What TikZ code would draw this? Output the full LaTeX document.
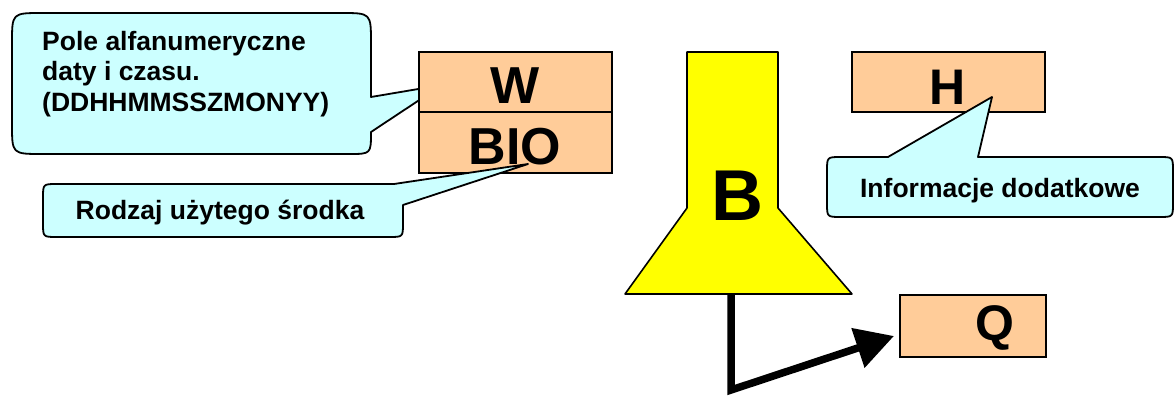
\documentclass[tikz,border=0pt]{standalone}
\usepackage{fontspec}
\setmainfont{Liberation Sans}
\usetikzlibrary{arrows.meta}
\definecolor{peach}{HTML}{FFCC99}
\definecolor{lcyan}{HTML}{CCFFFF}
\definecolor{yel}{HTML}{FFFF00}
\begin{document}
\begin{tikzpicture}[x=1pt,y=-1pt,
  callout/.style={draw=black,fill=lcyan,line width=1.8pt,line join=round},
  fieldbox/.style={draw=black,fill=peach,line width=1.6pt},
  bigletter/.style={font=\fontsize{52}{52}\selectfont\bfseries,inner sep=0pt},
  calltext/.style={font=\fontsize{26.5}{30}\selectfont\bfseries,inner sep=0pt}]
\useasboundingbox (0,0) rectangle (1176,396);
% callout 1
\draw[callout] (442,85) -- (371,97) -- (371,43) .. controls (371,13) .. (341,13) -- (42,13) .. controls (12,13) .. (12,43) -- (12,124) .. controls (12,154) .. (42,154) -- (349,154) .. controls (371,154) .. (371,132) -- cycle;
\node[calltext,anchor=base west] (t1a) at (42,50.5) {Pole alfanumeryczne};
\node[calltext,anchor=base west] (t1b) at (42,81) {daty i czasu.};
\node[calltext,anchor=base west] (t1c) at (42,111.5) {(DDHHMMSSZMONYY)};
% W / BIO box
\draw[fieldbox] (419,52) rectangle (612,112);
\draw[fieldbox] (419,112) rectangle (612,173);
\node[bigletter] (W) at (515,86) {W};
\node[bigletter] (BIO) at (515,147) {BIO};
% callout 2
\draw[callout] (528,164) -- (403,205) -- (403,223) .. controls (403,237) .. (389,237) -- (57,237) .. controls (43,237) .. (43,223) -- (43,198) .. controls (43,184) .. (57,184) -- (394,184) -- cycle;
\node[calltext,anchor=base] (t2) at (220,219) {Rodzaj użytego środka};
% funnel
\draw[fill=yel,line width=1.6pt,line join=round] (687,52) -- (778,52) -- (778,208) -- (852,294) -- (625,294) -- (687,208) -- cycle;
\coordinate (fb) at (731,294);
\node[bigletter,font=\fontsize{72}{72}\selectfont\bfseries] (B) at (737,196) {B};
% H box
\draw[fieldbox] (852,52) rectangle (1045,112);
\node[bigletter,font=\fontsize{50}{50}\selectfont\bfseries] (H) at (948,87) {H};
% callout 3
\draw[callout] (992,97) -- (978,157) -- (1159,157) .. controls (1173,157) .. (1173,171) -- (1173,203) .. controls (1173,217) .. (1159,217) -- (841,217) .. controls (827,217) .. (827,203) -- (827,171) .. controls (827,157) .. (841,157) -- (888,157) -- cycle;
\node[calltext,anchor=base] (t3) at (1000,197) {Informacje dodatkowe};
% Q box
\draw[fieldbox] (900,295) rectangle (1046,357);
\node[bigletter,font=\fontsize{50}{50}\selectfont\bfseries] (Q) at (995,328) {Q};
\coordinate (qin) at (894,336);
\draw[line width=7.5pt,-{Triangle[length=38pt,width=40pt]}] (fb) -- (731,390) -- (qin);
\end{tikzpicture}
\end{document}
